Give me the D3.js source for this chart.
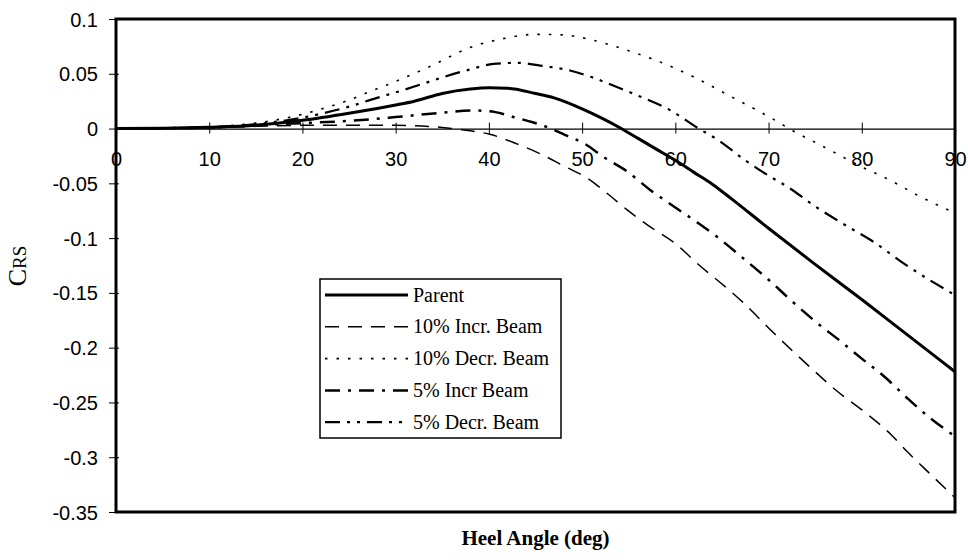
<!DOCTYPE html>
<html>
<head>
<meta charset="utf-8">
<script src="https://cdn.jsdelivr.net/npm/d3@7"></script>
<style>
    body { margin: 0; background: #fff; }
    svg { display: block; }
</style>
</head>
<body>
<svg id="chart"></svg>
<script>
// heel angle (deg) and C_RS for each hull variant
let parentX = [0, 5, 10, 15, 20, 25, 30, 32, 35, 38, 40, 42, 45, 47, 50, 52, 54, 56, 58, 60, 62, 64, 66, 70, 75, 80, 85, 90];
let parentY = [0, 0.0003, 0.0012, 0.003, 0.0075, 0.014, 0.0215, 0.025, 0.032, 0.036, 0.0372, 0.0368, 0.032, 0.028, 0.018, 0.010, 0.001, -0.009, -0.019, -0.029, -0.040, -0.051, -0.064, -0.091, -0.124, -0.156, -0.189, -0.222];

let incr10X = [0, 10, 15, 20, 25, 30, 35, 38, 40, 43, 45.5, 48, 50.5, 52.8, 54.8, 57, 60, 62.6, 65.3, 67.3, 70, 72.7, 75, 77.1, 80.2, 83.1, 85, 87.3, 90];
let incr10Y = [0, 0.0008, 0.002, 0.003, 0.003, 0.003, 0.001, -0.002, -0.005, -0.014, -0.023, -0.034, -0.045, -0.060, -0.074, -0.088, -0.105, -0.125, -0.144, -0.159, -0.182, -0.204, -0.222, -0.238, -0.258, -0.279, -0.296, -0.315, -0.337];

let decr10X = [0, 5, 10, 15, 20, 22.5, 25, 27, 30, 34, 38, 41.5, 45, 48, 51, 55, 58, 62, 66, 70, 72.6, 76, 80, 83, 86, 90];
let decr10Y = [0, 0.0003, 0.0015, 0.005, 0.013, 0.019, 0.026, 0.033, 0.043, 0.058, 0.074, 0.082, 0.086, 0.0855, 0.081, 0.071, 0.062, 0.047, 0.029, 0.011, -0.002, -0.017, -0.035, -0.047, -0.061, -0.077];

let incr5X = [0, 10, 15, 20, 25, 30, 35, 38.4, 40.7, 42.6, 44.6, 46.2, 48.2, 50.3, 52.3, 54.8, 57.3, 60, 62.4, 64.5, 67.5, 70, 72.3, 75, 77.7, 80, 82.5, 85, 87.3, 90];
let incr5Y = [0, 0.001, 0.003, 0.005, 0.007, 0.0105, 0.0145, 0.0165, 0.015, 0.0106, 0.006, 0.0015, -0.006, -0.014, -0.026, -0.039, -0.056, -0.072, -0.086, -0.099, -0.120, -0.138, -0.156, -0.176, -0.194, -0.210, -0.227, -0.247, -0.264, -0.281];

let decr5X = [0, 10, 15, 20, 25, 28, 30, 32.6, 35.5, 38, 40.5, 43, 45.5, 48.7, 51, 54, 56, 59.4, 62.4, 64.5, 67.5, 70, 72, 75, 78, 81, 85, 90];
let decr5Y = [0, 0.0012, 0.004, 0.010, 0.020, 0.028, 0.033, 0.040, 0.048, 0.054, 0.059, 0.060, 0.0575, 0.053, 0.047, 0.037, 0.030, 0.017, 0.0005, -0.010, -0.029, -0.043, -0.053, -0.071, -0.087, -0.102, -0.126, -0.152];

let seriesNames = ['Parent', '10% Incr. Beam', '10% Decr. Beam', '5% Incr Beam', '5% Decr. Beam'];

let xTicks = [0, 10, 20, 30, 40, 50, 60, 70, 80, 90];
let yTicks = [0.1, 0.05, 0, -0.05, -0.1, -0.15, -0.2, -0.25, -0.3, -0.35];
let yTickLabels = ['0.1', '0.05', '0', '-0.05', '-0.1', '-0.15', '-0.2', '-0.25', '-0.3', '-0.35'];

let margin = {top: 19, right: 13, bottom: 48, left: 116};
let width = 968 - margin.left - margin.right;
let height = 560 - margin.top - margin.bottom;

let svg = d3
    .select('#chart')
    .attr('width', width + margin.left + margin.right)
    .attr('height', height + margin.top + margin.bottom)
    .append('g')
    .attr('transform', 'translate(' + margin.left + ',' + margin.top + ')');

let xScale = d3.scaleLinear().domain([0, 90]).range([0, width]);
let yScale = d3.scaleLinear().domain([-0.35, 0.1]).range([height, 0]);

let series = [
    {name: seriesNames[0], xs: parentX, ys: parentY, width: 3, dash: null},
    {name: seriesNames[1], xs: incr10X, ys: incr10Y, width: 1.5, dash: '14,9'},
    {name: seriesNames[2], xs: decr10X, ys: decr10Y, width: 1.6, dash: '2.5,9'},
    {name: seriesNames[3], xs: incr5X, ys: incr5Y, width: 2.5, dash: '15,8,3,8'},
    {name: seriesNames[4], xs: decr5X, ys: decr5Y, width: 2.2, dash: '15,7,3,7,3,7'}
];

// y axis (left), ticks cross the axis line
let yAxis = d3.axisLeft(yScale)
    .tickValues(yTicks)
    .tickFormat(function (d, i) {
        return yTickLabels[i];
    });
let yG = svg.append('g').call(yAxis);
yG.select('.domain').remove();
yG.selectAll('.tick line')
    .attr('x1', -7)
    .attr('x2', 3)
    .attr('stroke', '#000')
    .attr('stroke-width', 1);
yG.selectAll('.tick text')
    .attr('x', -18)
    .attr('dy', '0.35em')
    .style('font-family', '"Liberation Sans", Arial, sans-serif')
    .style('font-size', '20px')
    .style('fill', '#000');

// zero line with x ticks and labels
let xAxis = d3.axisBottom(xScale).tickValues(xTicks).tickFormat(d3.format('d'));
let xG = svg.append('g')
    .attr('transform', 'translate(0,' + yScale(0) + ')')
    .call(xAxis);
xG.select('.domain')
    .attr('stroke', '#000')
    .attr('stroke-width', 1.2);
xG.selectAll('.tick line')
    .attr('y1', -6)
    .attr('y2', 5)
    .attr('stroke', '#000')
    .attr('stroke-width', 1);
xG.selectAll('.tick text')
    .attr('y', 37)
    .attr('dy', 0)
    .style('font-family', '"Liberation Sans", Arial, sans-serif')
    .style('font-size', '20px')
    .style('fill', '#000');

// curves
let line = d3.line()
    .x(function (d) { return xScale(d[0]); })
    .y(function (d) { return yScale(d[1]); })
    .curve(d3.curveMonotoneX);

series.forEach(function (s) {
    let pts = s.xs.map(function (x, i) { return [x, s.ys[i]]; });
    svg.append('path')
        .datum(pts)
        .attr('d', line)
        .attr('fill', 'none')
        .attr('stroke', '#000')
        .attr('stroke-width', s.width)
        .attr('stroke-dasharray', s.dash);
});

// plot frame
svg.append('rect')
    .attr('x', 0)
    .attr('y', 0)
    .attr('width', width)
    .attr('height', height)
    .attr('fill', 'none')
    .attr('stroke', '#000')
    .attr('stroke-width', 3);

// legend
let legend = svg.append('g')
    .attr('transform', 'translate(' + (320 - margin.left) + ',' + (279 - margin.top) + ')');
legend.append('rect')
    .attr('width', 241)
    .attr('height', 159)
    .attr('fill', '#fff')
    .attr('stroke', '#000')
    .attr('stroke-width', 1.5);
series.forEach(function (s, i) {
    let yy = 16 + i * 31.8;
    legend.append('line')
        .attr('x1', 5)
        .attr('x2', 88)
        .attr('y1', yy)
        .attr('y2', yy)
        .attr('stroke', '#000')
        .attr('stroke-width', s.width)
        .attr('stroke-dasharray', s.dash);
    legend.append('text')
        .attr('x', 93)
        .attr('y', yy)
        .attr('dy', '0.33em')
        .style('font-family', '"Liberation Serif", "Times New Roman", serif')
        .style('font-size', '20px')
        .text(s.name);
});

// axis titles
svg.append('text')
    .attr('x', width / 2)
    .attr('y', height + 33)
    .attr('text-anchor', 'middle')
    .style('font-family', '"Liberation Serif", "Times New Roman", serif')
    .style('font-size', '21px')
    .style('font-weight', 'bold')
    .text('Heel Angle (deg)');

let yTitle = svg.append('text')
    .attr('transform', 'translate(' + (26 - margin.left) + ',' + (266 - margin.top) + ') rotate(-90)')
    .attr('text-anchor', 'middle')
    .style('font-family', '"Liberation Serif", "Times New Roman", serif');
yTitle.append('tspan').style('font-size', '26px').text('C');
yTitle.append('tspan').style('font-size', '19px').text('RS');
</script>
</body>
</html>
